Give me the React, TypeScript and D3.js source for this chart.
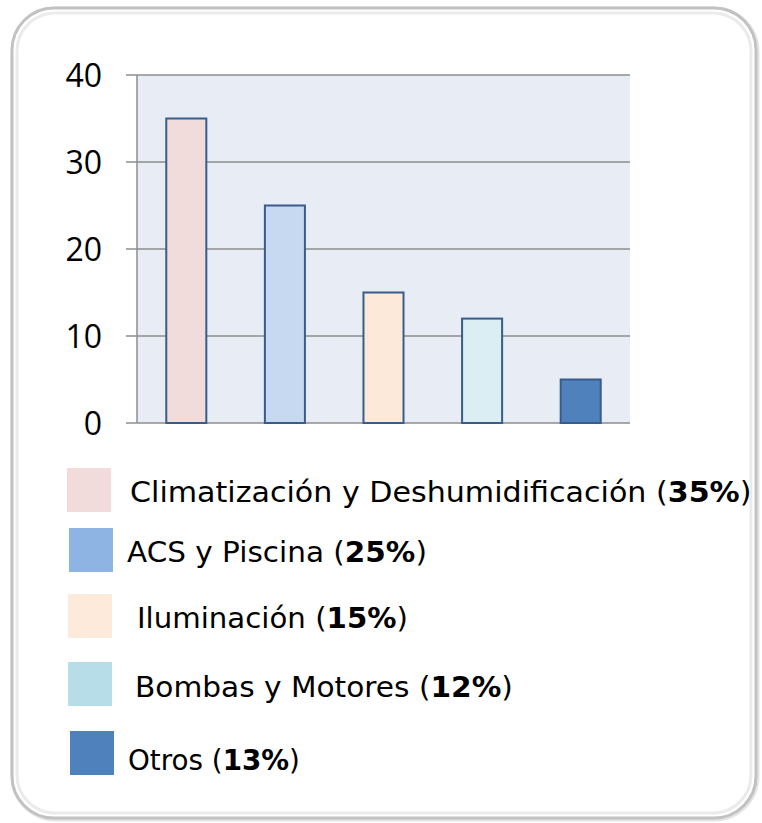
import { useEffect, useRef } from 'react';
import * as d3 from 'd3';

// Chart data
const categories = ['Climatización y Deshumidificación', 'ACS y Piscina', 'Iluminación', 'Bombas y Motores', 'Otros'];
const values = [35, 25, 15, 12, 5];
const legendPct = ['35%', '25%', '15%', '12%', '13%'];
const barFills = ['#F2DCDB', '#C6D9F1', '#FDE9D9', '#DBEEF4', '#4F81BD'];
const swatchFills = ['#F2DCDB', '#8EB4E3', '#FDEADA', '#B7DDE8', '#4F81BD'];
const yTicks = [0, 10, 20, 30, 40];

const W = 762;
const H = 823;

// legend layout (measured from reference)
const LEGEND = [
  { sx: 67, sy: 468, tx: 130, by: 502, len: 622 },
  { sx: 69, sy: 528, tx: 127, by: 562, len: 300 },
  { sx: 68, sy: 594, tx: 137, by: 628, len: 271 },
  { sx: 68, sy: 662, tx: 135, by: 697, len: 378 },
  { sx: 70, sy: 731, tx: 128, by: 770, len: 172 },
];

export default function App() {
  const svgRef = useRef<SVGSVGElement | null>(null);

  useEffect(() => {
    if (!svgRef.current) return;
    const svg = d3.select(svgRef.current);
    svg.selectAll('*').remove();

    // frame with soft border
    svg.append('rect')
      .attr('x', 14).attr('y', 10).attr('width', 742).attr('height', 808)
      .attr('rx', 42)
      .attr('fill', 'none')
      .attr('stroke', '#E4E4E4').attr('stroke-width', 7);
    svg.append('rect')
      .attr('x', 12).attr('y', 8).attr('width', 744).attr('height', 810)
      .attr('rx', 42)
      .attr('fill', '#FFFFFF')
      .attr('stroke', '#C2C2C2').attr('stroke-width', 3);
    svg.append('rect')
      .attr('x', 17).attr('y', 13).attr('width', 734).attr('height', 800)
      .attr('rx', 38)
      .attr('fill', 'none')
      .attr('stroke', '#EBEBEB').attr('stroke-width', 3);

    const left = 137, right = 630, top = 75, bottom = 423;

    const x = d3.scaleBand<string>()
      .domain(categories)
      .range([left, right])
      .paddingInner(0.594)
      .paddingOuter(0.297);

    const y = d3.scaleLinear().domain([0, 40]).range([bottom, top]);

    // plot background
    svg.append('rect')
      .attr('x', left).attr('y', top)
      .attr('width', right - left).attr('height', bottom - top)
      .attr('fill', '#E8ECF4');

    // gridlines + ticks
    svg.append('g')
      .selectAll('line')
      .data(yTicks)
      .join('line')
      .attr('x1', left - 11).attr('x2', right)
      .attr('y1', (d) => y(d)).attr('y2', (d) => y(d))
      .attr('stroke', '#8E8E8E').attr('stroke-width', 1.5);

    svg.append('line')
      .attr('x1', left).attr('x2', left)
      .attr('y1', top).attr('y2', bottom)
      .attr('stroke', '#8E8E8E').attr('stroke-width', 1.5);

    svg.append('g')
      .selectAll('text')
      .data(yTicks)
      .join('text')
      .attr('x', 102)
      .attr('y', (d) => y(d))
      .attr('dy', '0.36em')
      .attr('text-anchor', 'end')
      .attr('font-family', 'Open Sans, sans-serif')
      .attr('font-size', 32)
      .attr('fill', '#000')
      .text((d) => d);

    // bars
    svg.append('g')
      .selectAll('rect')
      .data(values)
      .join('rect')
      .attr('x', (_, i) => x(categories[i])!)
      .attr('y', (d) => y(d))
      .attr('width', x.bandwidth())
      .attr('height', (d) => bottom - y(d))
      .attr('fill', (_, i) => barFills[i])
      .attr('stroke', '#385D8A')
      .attr('stroke-width', 2);

    // legend
    const lg = svg.append('g');
    categories.forEach((c, i) => {
      const L = LEGEND[i];
      lg.append('rect')
        .attr('x', L.sx).attr('y', L.sy)
        .attr('width', 44).attr('height', 44)
        .attr('fill', swatchFills[i]);
      const t = lg.append('text')
        .attr('font-family', 'DejaVu Sans, sans-serif')
        .attr('font-size', 29)
        .attr('fill', '#000');
      t.append('tspan').text(`${c} (`);
      t.append('tspan').attr('font-weight', 'bold').text(legendPct[i]);
      t.append('tspan').text(')');
      // stretch/squeeze horizontally to match the reference's wider face
      const w = (t.node() as SVGTextElement).getComputedTextLength() || L.len;
      t.attr('transform', `translate(${L.tx},${L.by}) scale(${L.len / w},1)`);
    });
  }, []);

  return (
    <svg
      ref={svgRef}
      width={W}
      height={H}
      style={{ position: 'absolute', left: 0, top: 0, background: '#FFFFFF' }}
    />
  );
}
